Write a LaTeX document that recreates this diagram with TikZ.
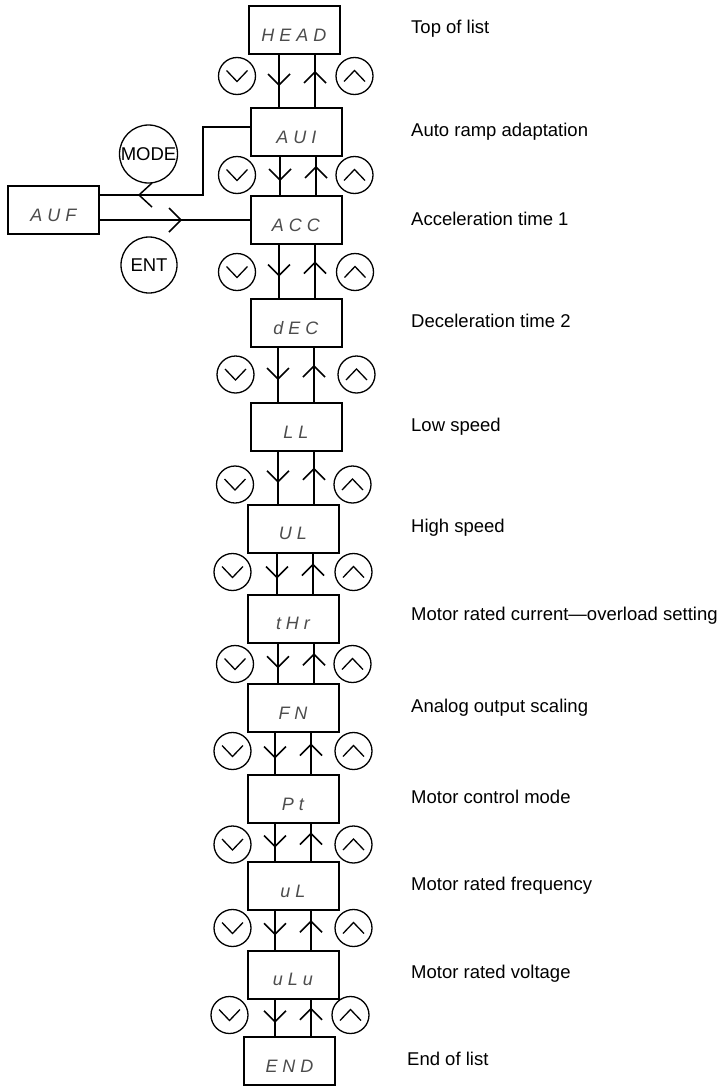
\documentclass[tikz,border=0pt]{standalone}
\usepackage{fontspec}
\setmainfont{Liberation Sans}
\usetikzlibrary{decorations.markings}

\begin{document}
\begin{tikzpicture}[x=1pt, y=-1pt, font=\fontsize{18.5}{22}\selectfont]
    \tikzset{codebox/.style={rectangle, draw, line width=2pt, minimum width=91pt,
      minimum height=48pt, text height=22pt, text depth=0pt, inner sep=0pt,
      font=\fontsize{18}{18}\selectfont\itshape, text=black!70}}
    \tikzset{lbl/.style={anchor=base west, inner sep=0pt}}
    \tikzset{btn/.style={circle, draw, line width=1.3pt, minimum size=37pt, inner sep=0pt}}
    \tikzset{dnkey/.style={btn, path picture={\draw[line width=1.3pt]
      ([shift={(-10.5pt,5.5pt)}]path picture bounding box.center) -- ++(10.5pt,-11pt) -- ++(10.5pt,11pt);}}}
    \tikzset{upkey/.style={btn, path picture={\draw[line width=1.3pt]
      ([shift={(-10.5pt,-5.5pt)}]path picture bounding box.center) -- ++(10.5pt,11pt) -- ++(10.5pt,-11pt);}}}
    \tikzset{link/.style={line width=2pt}}
    \tikzset{dnlink/.style={link, postaction={decorate}, decoration={markings,
      mark=at position 0.5 with {\draw[line width=1.5pt] (-7pt,-11pt) -- (4pt,0pt) -- (-7pt,11pt);}}}}
    \tikzset{uplink/.style={link, postaction={decorate}, decoration={markings,
      mark=at position 0.5 with {\draw[line width=1.5pt] (-2pt,-11pt) -- (9pt,0pt) -- (-2pt,11pt);}}}}

    \useasboundingbox (0,0) rectangle (720,1087);

    % parameter list
    \node[codebox] (head) at (294,30) {H E A D};
    \node[lbl] (lhead) at (411,33) {Top of list};
    \node[codebox] (aui) at (296.5,132) {A U I};
    \node[lbl] (laui) at (411,136) {Auto ramp adaptation};
    \node[codebox] (acc) at (296,220) {A C C};
    \node[lbl] (lacc) at (411,225) {Acceleration time 1};
    \node[codebox] (dec) at (296,323) {d E C};
    \node[lbl] (ldec) at (411,327) {Deceleration time 2};
    \node[codebox] (ll) at (296,427) {L L};
    \node[lbl] (lll) at (411,431) {Low speed};
    \node[codebox] (ul) at (293,528.5) {U L};
    \node[lbl] (lul) at (411,532) {High speed};
    \node[codebox] (thr) at (293,618.5) {t H r};
    \node[lbl] (lthr) at (411,620) {Motor rated current—overload setting};
    \node[codebox] (fn) at (293,708) {F N};
    \node[lbl] (lfn) at (411,712) {Analog output scaling};
    \node[codebox] (pt) at (293,799) {P t};
    \node[lbl] (lpt) at (411,803) {Motor control mode};
    \node[codebox] (uln) at (293,886) {u L};
    \node[lbl] (luln) at (411,890) {Motor rated frequency};
    \node[codebox] (ulu) at (293,974.5) {u L u};
    \node[lbl] (lulu) at (411,978) {Motor rated voltage};
    \node[codebox] (endl) at (289.5,1061) {E N D};
    \node[lbl] (lendl) at (407,1065) {End of list};

    % scroll keys and links between parameters
    \foreach \a/\b/\xd/\ky/\kl/\kr in {head/aui/279/76/237/354.5, aui/acc/280/175/237/354.5,
      acc/dec/279/272/237/355, dec/ll/278/374.5/235.5/356.5, ll/ul/278/484.5/235/352.5,
      ul/thr/277/572/232.5/353.5, thr/fn/278/664/235/352.5, fn/pt/275/751/232.5/353.5,
      pt/uln/275/844.5/232.5/353.5, uln/ulu/275/928/232.5/353.5, ulu/endl/275/1015/229.5/350.5}{
      \pgfmathsetmacro{\xu}{\xd+36}
      \draw[dnlink] (\xd,0 |- \a.south) -- (\xd,0 |- \b.north);
      \draw[uplink] (\xu,0 |- \b.north) -- (\xu,0 |- \a.south);
      \node[dnkey] (dn-\a) at (\kl,\ky) {};
      \node[upkey] (up-\a) at (\kr,\ky) {};
    }

    % AUF menu with MODE / ENT
    \node[codebox] (auf) at (53.5,210) {A U F};
    \node[btn, minimum size=58pt] (mode) at (148.5,154) {MODE};
    \node[btn, minimum size=56pt] (ent) at (149,265) {ENT};
    \coordinate (mdturn) at (203,195);
    \draw[link, postaction={decorate}, decoration={markings,
      mark=at position 179pt with {\draw[line width=1.5pt] (-13pt,-12pt) -- (0pt,0pt) -- (-13pt,12pt);}}]
      ([yshift=5pt]aui.west) -| (mdturn) -- ([yshift=15pt]auf.east);
    \draw[link, postaction={decorate}, decoration={markings,
      mark=at position 81pt with {\draw[line width=1.5pt] (-12pt,-12pt) -- (0pt,0pt) -- (-12pt,12pt);}}]
      ([yshift=-10pt]auf.east) -- (acc.west);
  \end{tikzpicture}
\end{document}
